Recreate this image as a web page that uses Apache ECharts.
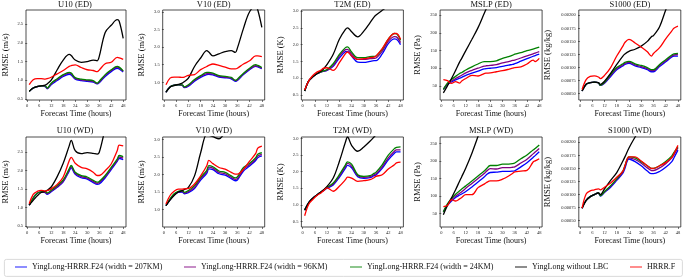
<!DOCTYPE html>
<html>
<head>
<meta charset="utf-8">
<script src="https://cdn.jsdelivr.net/npm/echarts@6/dist/echarts.min.js"></script>
<style>
  html, body { margin: 0; padding: 0; background: #fff; }
  #chart { width: 685px; height: 278px; }
</style>
</head>
<body>
<div id="chart"></div>
<script>
// forecast hours shared by every curve
var hours = [1, 3, 5, 7, 9, 10, 12, 15, 18, 21, 22, 24, 27, 30, 33, 35, 36, 39, 42, 45, 46, 48];
var xTicks = [0, 6, 12, 18, 24, 30, 36, 42, 48];
var seriesNames = ['YingLong-HRRR.F24 (width = 207KM)', 'YingLong-HRRR.F24 (width = 96KM)',
  'YingLong-HRRR.F24 (width = 24KM)', 'YingLong without LBC', 'HRRR.F'];

var u10Ticks = [0.5, 1.0, 1.5, 2.0, 2.5];
var v10Ticks = [1.0, 1.5, 2.0, 2.5, 3.0];
var t2mTicks = [0.5, 1.0, 1.5, 2.0, 2.5, 3.0];
var mslpTicks = [50, 100, 150, 200, 250];
var s1000Ticks = [0.0005, 0.00075, 0.001, 0.00125, 0.0015, 0.00175, 0.002];

// U10 (ED)
var u10ED_207 = [0.70, 0.79, 0.83, 0.85, 0.83, 0.77, 0.88, 0.99, 1.10, 1.16, 1.14, 1.03, 0.99, 0.97, 0.95, 0.90, 0.93, 1.10, 1.23, 1.32, 1.30, 1.22];
var u10ED_96 = [0.70, 0.79, 0.83, 0.85, 0.84, 0.78, 0.90, 1.02, 1.13, 1.19, 1.17, 1.05, 1.01, 0.99, 0.97, 0.91, 0.95, 1.13, 1.26, 1.35, 1.33, 1.24];
var u10ED_24 = [0.70, 0.79, 0.83, 0.85, 0.85, 0.79, 0.92, 1.04, 1.15, 1.21, 1.19, 1.07, 1.03, 1.01, 0.99, 0.92, 0.97, 1.15, 1.28, 1.37, 1.35, 1.25];
var u10ED_noLBC = [0.70, 0.79, 0.83, 0.85, 0.87, 0.90, 1.00, 1.28, 1.54, 1.69, 1.66, 1.54, 1.48, 1.50, 1.54, 1.52, 1.63, 2.28, 2.47, 2.62, 2.58, 2.12];
var u10ED_hrrr = [0.88, 1.01, 1.04, 1.04, 1.03, 1.04, 1.08, 1.17, 1.26, 1.37, 1.39, 1.41, 1.34, 1.28, 1.26, 1.23, 1.27, 1.44, 1.48, 1.61, 1.60, 1.56];

// V10 (ED)
var v10ED_207 = [0.72, 0.87, 0.92, 0.93, 0.91, 0.85, 0.89, 1.03, 1.14, 1.22, 1.23, 1.21, 1.15, 1.13, 1.10, 1.03, 1.05, 1.22, 1.36, 1.45, 1.44, 1.39];
var v10ED_96 = [0.72, 0.87, 0.92, 0.93, 0.92, 0.86, 0.91, 1.06, 1.17, 1.25, 1.25, 1.24, 1.17, 1.15, 1.12, 1.05, 1.07, 1.24, 1.38, 1.47, 1.46, 1.40];
var v10ED_24 = [0.72, 0.87, 0.92, 0.93, 0.93, 0.87, 0.93, 1.08, 1.19, 1.28, 1.28, 1.26, 1.19, 1.17, 1.14, 1.06, 1.09, 1.26, 1.40, 1.50, 1.48, 1.42];
var v10ED_noLBC = [0.72, 0.87, 0.91, 0.94, 0.98, 1.02, 1.12, 1.45, 1.69, 1.90, 1.86, 1.75, 1.81, 1.87, 1.90, 1.85, 1.97, 2.53, 3.00, 3.15, 3.05, 2.56];
var v10ED_hrrr = [0.93, 1.12, 1.15, 1.15, 1.14, 1.15, 1.20, 1.22, 1.36, 1.45, 1.48, 1.52, 1.48, 1.43, 1.38, 1.38, 1.40, 1.52, 1.61, 1.75, 1.75, 1.73];

// T2M (ED)
var t2mED_207 = [0.62, 0.92, 1.04, 1.13, 1.19, 1.20, 1.23, 1.35, 1.60, 1.79, 1.80, 1.66, 1.48, 1.47, 1.50, 1.52, 1.52, 1.72, 2.03, 2.17, 2.16, 2.00];
var t2mED_96 = [0.62, 0.92, 1.04, 1.13, 1.19, 1.20, 1.24, 1.38, 1.66, 1.85, 1.86, 1.72, 1.56, 1.56, 1.58, 1.59, 1.60, 1.80, 2.10, 2.24, 2.23, 2.06];
var t2mED_24 = [0.62, 0.92, 1.04, 1.13, 1.19, 1.21, 1.26, 1.43, 1.71, 1.91, 1.93, 1.78, 1.61, 1.61, 1.64, 1.65, 1.66, 1.86, 2.16, 2.33, 2.32, 2.13];
var t2mED_noLBC = [0.62, 0.92, 1.04, 1.13, 1.21, 1.26, 1.41, 1.71, 2.16, 2.45, 2.50, 2.38, 2.23, 2.40, 2.65, 2.82, 2.88, 3.02, 3.15, 3.30, 3.35, 3.40];
var t2mED_hrrr = [0.65, 0.92, 1.08, 1.18, 1.24, 1.29, 1.31, 1.23, 1.46, 1.73, 1.78, 1.66, 1.56, 1.58, 1.61, 1.63, 1.66, 1.88, 2.16, 2.33, 2.33, 2.16];

// MSLP (ED)
var mslpED_207 = [40, 54, 61, 67, 72, 74, 80, 86, 92, 98, 99, 100, 102, 105, 109, 111, 113, 120, 127, 134, 136, 140];
var mslpED_96 = [40, 56, 64, 71, 77, 80, 87, 94, 100, 106, 107, 108, 110, 115, 119, 122, 123, 129, 135, 141, 143, 147];
var mslpED_24 = [40, 58, 68, 77, 85, 88, 95, 104, 112, 119, 119, 119, 121, 128, 133, 137, 140, 144, 150, 154, 156, 160];
var mslpED_noLBC = [30, 50, 71, 94, 118, 128, 150, 182, 215, 255, 268, 292, 328, 362, 398, 420, 432, 466, 500, 535, 546, 570];
var mslpED_hrrr = [68, 65, 57, 62, 58, 64, 71, 80, 78, 85, 86, 87, 90, 93, 97, 100, 102, 104, 112, 123, 119, 128];

// S1000 (ED)
var s1000ED_207 = [0.00055, 0.00068, 0.00071, 0.00072, 0.00071, 0.00066, 0.00070, 0.00083, 0.00096, 0.00103, 0.00106, 0.00108, 0.00103, 0.00100, 0.00096, 0.00092, 0.00092, 0.00102, 0.00111, 0.00120, 0.00122, 0.00122];
var s1000ED_96 = [0.00055, 0.00068, 0.00071, 0.00072, 0.00071, 0.00066, 0.00071, 0.00085, 0.00098, 0.00105, 0.00108, 0.00110, 0.00105, 0.00102, 0.00098, 0.00094, 0.00094, 0.00104, 0.00113, 0.00122, 0.00124, 0.00125];
var s1000ED_24 = [0.00055, 0.00068, 0.00071, 0.00072, 0.00071, 0.00066, 0.00072, 0.00087, 0.00100, 0.00107, 0.00110, 0.00112, 0.00107, 0.00104, 0.00100, 0.00096, 0.00096, 0.00106, 0.00115, 0.00124, 0.00126, 0.00127];
var s1000ED_noLBC = [0.00055, 0.00068, 0.00071, 0.00072, 0.00071, 0.00068, 0.00074, 0.00089, 0.00106, 0.00122, 0.00126, 0.00131, 0.00135, 0.00141, 0.00150, 0.00159, 0.00161, 0.00178, 0.00210, 0.00240, 0.00250, 0.00265];
var s1000ED_hrrr = [0.00058, 0.00077, 0.00083, 0.00084, 0.00082, 0.00079, 0.00085, 0.00100, 0.00122, 0.00141, 0.00148, 0.00154, 0.00147, 0.00139, 0.00130, 0.00122, 0.00127, 0.00138, 0.00155, 0.00170, 0.00175, 0.00179];

// U10 (WD)
var u10WD_207 = [1.06, 1.25, 1.38, 1.42, 1.40, 1.35, 1.42, 1.54, 1.69, 1.98, 2.07, 1.89, 1.80, 1.76, 1.67, 1.62, 1.63, 1.80, 2.02, 2.24, 2.32, 2.29];
var u10WD_96 = [1.06, 1.25, 1.38, 1.42, 1.41, 1.37, 1.44, 1.56, 1.71, 2.01, 2.10, 1.92, 1.83, 1.79, 1.70, 1.65, 1.67, 1.83, 2.05, 2.27, 2.36, 2.33];
var u10WD_24 = [1.06, 1.25, 1.38, 1.42, 1.43, 1.39, 1.46, 1.59, 1.74, 2.04, 2.13, 1.95, 1.86, 1.82, 1.73, 1.68, 1.70, 1.86, 2.08, 2.30, 2.40, 2.37];
var u10WD_noLBC = [1.06, 1.19, 1.31, 1.40, 1.43, 1.46, 1.55, 1.83, 2.19, 2.66, 2.81, 2.53, 2.45, 2.48, 2.46, 2.44, 2.48, 3.10, 3.50, 3.80, 3.90, 4.00];
var u10WD_hrrr = [1.10, 1.35, 1.43, 1.46, 1.44, 1.45, 1.50, 1.62, 1.82, 2.26, 2.35, 2.19, 2.08, 2.04, 1.95, 1.86, 1.86, 1.99, 2.17, 2.53, 2.68, 2.66];

// V10 (WD)
var v10WD_207 = [1.11, 1.28, 1.42, 1.49, 1.50, 1.45, 1.48, 1.60, 1.84, 2.03, 2.16, 2.14, 2.02, 1.98, 1.88, 1.82, 1.84, 2.10, 2.24, 2.40, 2.48, 2.53];
var v10WD_96 = [1.11, 1.29, 1.43, 1.50, 1.52, 1.47, 1.51, 1.64, 1.88, 2.08, 2.21, 2.18, 2.06, 2.02, 1.92, 1.86, 1.88, 2.14, 2.28, 2.44, 2.53, 2.57];
var v10WD_24 = [1.11, 1.30, 1.45, 1.52, 1.54, 1.49, 1.54, 1.68, 1.92, 2.12, 2.25, 2.22, 2.10, 2.06, 1.96, 1.90, 1.93, 2.20, 2.32, 2.48, 2.58, 2.62];
var v10WD_noLBC = [1.11, 1.27, 1.40, 1.50, 1.54, 1.57, 1.63, 1.96, 2.62, 3.15, 3.12, 3.08, 3.02, 3.20, 3.40, 3.50, 3.55, 3.70, 3.90, 4.10, 4.15, 4.30];
var v10WD_hrrr = [1.16, 1.40, 1.52, 1.58, 1.58, 1.59, 1.60, 1.73, 1.96, 2.25, 2.40, 2.31, 2.20, 2.15, 2.06, 2.01, 2.01, 2.15, 2.38, 2.60, 2.75, 2.81];

// T2M (WD)
var t2mWD_207 = [0.84, 1.07, 1.20, 1.30, 1.39, 1.42, 1.50, 1.60, 1.83, 2.11, 2.19, 2.12, 1.85, 1.80, 1.82, 1.88, 1.90, 2.10, 2.36, 2.56, 2.60, 2.60];
var t2mWD_96 = [0.84, 1.07, 1.20, 1.30, 1.39, 1.43, 1.52, 1.63, 1.87, 2.16, 2.25, 2.17, 1.88, 1.83, 1.85, 1.91, 1.94, 2.15, 2.42, 2.62, 2.66, 2.66];
var t2mWD_24 = [0.84, 1.07, 1.20, 1.30, 1.39, 1.43, 1.53, 1.66, 1.91, 2.21, 2.30, 2.23, 1.91, 1.86, 1.88, 1.95, 1.99, 2.21, 2.50, 2.70, 2.74, 2.75];
var t2mWD_noLBC = [0.84, 1.07, 1.20, 1.30, 1.39, 1.44, 1.56, 1.81, 2.31, 2.90, 3.05, 2.80, 2.62, 2.75, 2.92, 3.05, 3.12, 3.30, 3.45, 3.60, 3.65, 3.75];
var t2mWD_hrrr = [0.67, 1.02, 1.16, 1.28, 1.36, 1.41, 1.51, 1.41, 1.56, 1.76, 1.84, 1.81, 1.71, 1.73, 1.76, 1.82, 1.86, 1.91, 2.08, 2.21, 2.27, 2.29];

// MSLP (WD)
var mslpWD_207 = [55, 74, 86, 96, 103, 106, 113, 126, 140, 154, 160, 167, 168, 170, 170, 171, 172, 183, 195, 210, 215, 226];
var mslpWD_96 = [55, 76, 89, 100, 108, 112, 122, 136, 150, 164, 170, 178, 177, 181, 181, 182, 183, 194, 205, 220, 225, 235];
var mslpWD_24 = [55, 78, 93, 105, 115, 120, 129, 143, 157, 171, 177, 187, 187, 191, 191, 192, 194, 206, 217, 231, 235, 245];
var mslpWD_noLBC = [47, 73, 95, 118, 143, 155, 180, 222, 270, 320, 335, 365, 410, 455, 500, 530, 545, 590, 635, 680, 695, 725];
var mslpWD_hrrr = [70, 73, 90, 86, 92, 96, 104, 104, 124, 134, 138, 143, 143, 148, 157, 165, 169, 171, 173, 197, 200, 206];

// S1000 (WD)
var s1000WD_207 = [0.00074, 0.00089, 0.00096, 0.00100, 0.00103, 0.00097, 0.00104, 0.00114, 0.00127, 0.00141, 0.00150, 0.00168, 0.00163, 0.00155, 0.00145, 0.00140, 0.00140, 0.00144, 0.00152, 0.00163, 0.00170, 0.00185];
var s1000WD_96 = [0.00074, 0.00089, 0.00096, 0.00100, 0.00103, 0.00098, 0.00105, 0.00116, 0.00129, 0.00143, 0.00153, 0.00170, 0.00167, 0.00160, 0.00151, 0.00146, 0.00146, 0.00151, 0.00159, 0.00170, 0.00176, 0.00189];
var s1000WD_24 = [0.00074, 0.00089, 0.00096, 0.00100, 0.00103, 0.00098, 0.00106, 0.00117, 0.00130, 0.00145, 0.00155, 0.00172, 0.00170, 0.00163, 0.00155, 0.00150, 0.00150, 0.00155, 0.00163, 0.00174, 0.00180, 0.00191];
var s1000WD_noLBC = [0.00074, 0.00089, 0.00096, 0.00100, 0.00103, 0.00100, 0.00111, 0.00127, 0.00142, 0.00164, 0.00172, 0.00189, 0.00210, 0.00230, 0.00250, 0.00262, 0.00268, 0.00285, 0.00300, 0.00315, 0.00320, 0.00330];
var s1000WD_hrrr = [0.00074, 0.00101, 0.00107, 0.00109, 0.00111, 0.00109, 0.00114, 0.00122, 0.00133, 0.00145, 0.00155, 0.00172, 0.00172, 0.00164, 0.00155, 0.00150, 0.00150, 0.00155, 0.00161, 0.00171, 0.00178, 0.00194];

(function() {
  var font = "'Liberation Serif', 'DejaVu Serif', serif";
  var colors = ['#0000ff', '#800080', '#008000', '#000000', '#ff0000'];

  var panels = [
    { title: 'U10 (ED)', unit: 'RMSE (m/s)', ticks: u10Ticks, min: 0.47, max: 2.88, dec: 1, gap: 16,
      data: [u10ED_207, u10ED_96, u10ED_24, u10ED_noLBC, u10ED_hrrr] },
    { title: 'V10 (ED)', unit: 'RMSE (m/s)', ticks: v10Ticks, min: 0.5, max: 3.05, dec: 1, gap: 16,
      data: [v10ED_207, v10ED_96, v10ED_24, v10ED_noLBC, v10ED_hrrr] },
    { title: 'T2M (ED)', unit: 'RMSE (K)', ticks: t2mTicks, min: 0.35, max: 3.03, dec: 1, gap: 16,
      data: [t2mED_207, t2mED_96, t2mED_24, t2mED_noLBC, t2mED_hrrr] },
    { title: 'MSLP (ED)', unit: 'RMSE (Pa)', ticks: mslpTicks, min: 10, max: 265, dec: 0, gap: 18,
      data: [mslpED_207, mslpED_96, mslpED_24, mslpED_noLBC, mslpED_hrrr] },
    { title: 'S1000 (ED)', unit: 'RMSE (kg/kg)', ticks: s1000Ticks, min: 0.00038, max: 0.0021, dec: 5, gap: 27,
      data: [s1000ED_207, s1000ED_96, s1000ED_24, s1000ED_noLBC, s1000ED_hrrr] },
    { title: 'U10 (WD)', unit: 'RMSE (m/s)', ticks: u10Ticks, min: 0.47, max: 2.9, dec: 1, gap: 16,
      data: [u10WD_207, u10WD_96, u10WD_24, u10WD_noLBC, u10WD_hrrr] },
    { title: 'V10 (WD)', unit: 'RMSE (m/s)', ticks: v10Ticks, min: 0.5, max: 3.07, dec: 1, gap: 16,
      data: [v10WD_207, v10WD_96, v10WD_24, v10WD_noLBC, v10WD_hrrr] },
    { title: 'T2M (WD)', unit: 'RMSE (K)', ticks: t2mTicks, min: 0.33, max: 3.05, dec: 1, gap: 16,
      data: [t2mWD_207, t2mWD_96, t2mWD_24, t2mWD_noLBC, t2mWD_hrrr] },
    { title: 'MSLP (WD)', unit: 'RMSE (Pa)', ticks: mslpTicks, min: 12, max: 268, dec: 0, gap: 18,
      data: [mslpWD_207, mslpWD_96, mslpWD_24, mslpWD_noLBC, mslpWD_hrrr] },
    { title: 'S1000 (WD)', unit: 'RMSE (kg/kg)', ticks: s1000Ticks, min: 0.00038, max: 0.0021, dec: 5, gap: 27,
      data: [s1000WD_207, s1000WD_96, s1000WD_24, s1000WD_noLBC, s1000WD_hrrr] }
  ];

  var grids = [], xAxes = [], yAxes = [], titles = [], series = [];
  panels.forEach(function(p, i) {
    var col = i % 5, row = Math.floor(i / 5);
    var left = 24 + col * 138.7, top = row === 0 ? 10 : 137, w = 102, h = 90;
    grids.push({ left: left, top: top, width: w, height: h, show: true,
      borderColor: '#222', borderWidth: 0.8, containLabel: false });
    titles.push({ text: p.title, left: left + w / 2, top: row === 0 ? 0 : 126, textAlign: 'center',
      padding: 0, textStyle: { fontFamily: font, fontSize: 8.5, fontWeight: 'normal', color: '#111' } });
    xAxes.push({
      type: 'value', gridIndex: i, min: -0.6, max: 49.4,
      name: 'Forecast Time (hours)', nameLocation: 'middle', nameGap: 10,
      nameTextStyle: { fontFamily: font, fontSize: 8, color: '#111' },
      axisLine: { show: false },
      axisTick: { show: true, length: 2, customValues: xTicks, lineStyle: { color: '#222', width: 0.6 } },
      axisLabel: { customValues: xTicks, fontFamily: font, fontSize: 4.5, color: '#222', margin: 3 },
      splitLine: { show: false }
    });
    yAxes.push({
      type: 'value', gridIndex: i, min: p.min, max: p.max,
      name: p.unit, nameLocation: 'middle', nameGap: p.gap, nameRotate: 90,
      nameTextStyle: { fontFamily: font, fontSize: 8.5, color: '#111' },
      axisLine: { show: false },
      axisTick: { show: true, length: 2, customValues: p.ticks, lineStyle: { color: '#222', width: 0.6 } },
      axisLabel: { customValues: p.ticks, fontFamily: font, fontSize: 4.5, color: '#222', margin: 3,
        formatter: (function(d) { return function(v) { return v.toFixed(d); }; })(p.dec) },
      splitLine: { show: false }
    });
    p.data.forEach(function(vals, k) {
      series.push({
        type: 'line', name: seriesNames[k], xAxisIndex: i, yAxisIndex: i,
        data: hours.map(function(hr, j) { return [hr, vals[j]]; }),
        showSymbol: false, symbol: 'none', smooth: 0.35, clip: true,
        lineStyle: { color: colors[k], width: 1.3 }, itemStyle: { color: colors[k] },
        z: 2 + k, silent: true
      });
    });
  });

  // one legend per entry so each sits where the reference puts it
  var legendTextX = [32, 201, 367, 532, 647];
  var legends = seriesNames.map(function(name, k) {
    return {
      data: [name], left: legendTextX[k] - 17, top: 263, padding: 0,
      itemWidth: 12, itemHeight: 1.5, icon: 'rect', selectedMode: false,
      itemStyle: { opacity: 0.6 },
      textStyle: { fontFamily: font, fontSize: 8, color: '#111' }
    };
  });

  var chart = echarts.init(document.getElementById('chart'), null, { renderer: 'canvas' });
  chart.setOption({
    animation: false,
    title: titles,
    grid: grids,
    xAxis: xAxes,
    yAxis: yAxes,
    legend: legends,
    graphic: [{
      type: 'rect', left: 4, top: 259, silent: true, z: -1,
      shape: { width: 678, height: 17, r: 2 },
      style: { fill: '#fff', stroke: '#d0d0d0', lineWidth: 0.8 }
    }],
    series: series
  });
})();
</script>
</body>
</html>
